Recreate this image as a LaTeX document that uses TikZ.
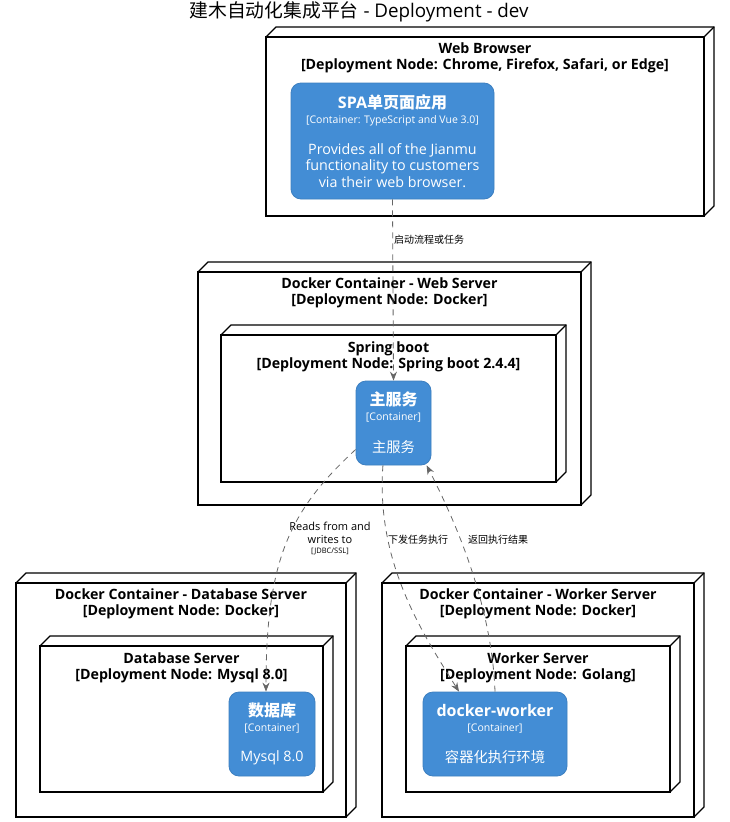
\documentclass[tikz,border=0pt]{standalone}
\usepackage{fontspec}
\setmainfont{Open Sans}
\newfontfamily\cjk{Noto Sans CJK SC}
\usepackage{xcolor}
\usetikzlibrary{arrows.meta}
\definecolor{ctrfill}{HTML}{438DD5}
\definecolor{ctrline}{HTML}{3C7FC0}
\definecolor{relgray}{HTML}{666666}

\tikzset{
  depbox/.style={draw=black, line width=1.3pt, fill=white},
  deplabel/.style={font=\bfseries\fontsize{14.2}{16}\selectfont, align=center, inner sep=0pt},
  ctr/.style={rectangle, rounded corners=10pt, draw=ctrline, fill=ctrfill, text=white, align=center, inner sep=0pt, line width=0.8pt, font=\fontsize{14.3}{16.5}\selectfont},
  rel/.style={draw=relgray, line width=0.8pt, dash pattern=on 6pt off 5pt, -{Stealth[length=9pt,width=7pt,inset=3pt]}},
  rellabel/.style={font=\fontsize{10}{12}\selectfont, inner sep=0pt, text=black}
}
\newcommand{\ctrtitle}[1]{{\bfseries\fontsize{16}{18}\selectfont #1}}
\newcommand{\ctrtech}[1]{{\fontsize{10.5}{12}\selectfont #1}}

\begin{document}
\begin{tikzpicture}[x=1pt,y=1pt,yscale=-1,xscale=1]
		\useasboundingbox (0,0) rectangle (730,822);
		
		%Title
		\node[font=\fontsize{18.8}{20}\selectfont, inner sep=0pt] (title) at (359,12) {{\cjk 建木自动化集成平台} - Deployment - dev};
		
		%Shape: deployment nodes, front face with top and side
		\foreach \xa/\ya/\xb/\yb in {266/37/704/216, 198/272/581/505, 221/335/556/482, 16/583/346/817, 40/646/323/792, 382/583/694/817, 406/646/670/792}
		{
			\draw[depbox] (\xa,\ya) -- (\xa+10,\ya-10) -- (\xb+10,\ya-10) -- (\xb+10,\yb-10) -- (\xb,\yb) -- (\xa,\yb) -- cycle;
			\draw[depbox] (\xa,\ya) rectangle (\xb,\yb);
			\draw[depbox] (\xb,\ya) -- (\xb+10,\ya-10);
		}
		
		%Text: deployment node labels
		\node[deplabel] (browserLbl) at (485,58) {Web Browser\\{}[Deployment Node: Chrome, Firefox, Safari, or Edge]};
		\node[deplabel] (webLbl) at (389.5,293) {Docker Container - Web Server\\{}[Deployment Node: Docker]};
		\node[deplabel] (springLbl) at (388.5,357) {Spring boot\\{}[Deployment Node: Spring boot 2.4.4]};
		\node[deplabel] (dbDockLbl) at (181,603.5) {Docker Container - Database Server\\{}[Deployment Node: Docker]};
		\node[deplabel] (dbSrvLbl) at (181.5,668) {Database Server\\{}[Deployment Node: Mysql 8.0]};
		\node[deplabel] (wkDockLbl) at (538,603.5) {Docker Container - Worker Server\\{}[Deployment Node: Docker]};
		\node[deplabel] (wkSrvLbl) at (538,668) {Worker Server\\{}[Deployment Node: Golang]};
		
		%Shape: containers
		\node[ctr, minimum width=203, minimum height=116] (spa) at (392.5,141) {\ctrtitle{SPA{\cjk 单页面应用}}\\[-1.5pt]\ctrtech{[Container: TypeScript and Vue 3.0]}\\[14.5pt]Provides all of the Jianmu\\functionality to customers\\via their web browser.};
		\node[ctr, minimum width=75, minimum height=84] (mainsvc) at (393.5,423) {\ctrtitle{\cjk 主服务}\\[-2pt]\ctrtech{[Container]}\\[16pt]{\cjk 主服务}};
		\node[ctr, minimum width=86, minimum height=84] (db) at (272,734) {\ctrtitle{\cjk 数据库}\\[-1.5pt]\ctrtech{[Container]}\\[14pt]Mysql 8.0};
		\node[ctr, minimum width=144, minimum height=84] (worker) at (495,734) {\ctrtitle{docker-worker}\\[-1.5pt]\ctrtech{[Container]}\\[14pt]{\cjk 容器化执行环境}};
		
		%Connectors
		\draw[rel] (spa.south) -- (mainsvc.north);
		\draw[rel] (mainsvc.215) .. controls +(-66,61) and +(0,-132) .. ([xshift=-6pt]db.north);
		\draw[rel] (mainsvc.256) .. controls +(-7,95) and +(-39,-62) .. ([xshift=-36pt]worker.north);
		\draw[rel] (worker.north) .. controls +(-3,-82) and +(33,64) .. (mainsvc.308);
		
		%Text: connector labels
		\node[rellabel, anchor=west] (startLbl) at (394,240) {\cjk 启动流程或任务};
		\node[rellabel, align=center, font=\fontsize{11}{13}\selectfont] (readLbl) at (330,538) {Reads from and\\writes to\\[-3pt]{\fontsize{7.5}{9}\selectfont [JDBC/SSL]}};
		\node[rellabel, anchor=west] (sendLbl) at (388,540) {\cjk 下发任务执行};
		\node[rellabel, anchor=west] (backLbl) at (468,540) {\cjk 返回执行结果};
		
	\end{tikzpicture}
\end{document}
